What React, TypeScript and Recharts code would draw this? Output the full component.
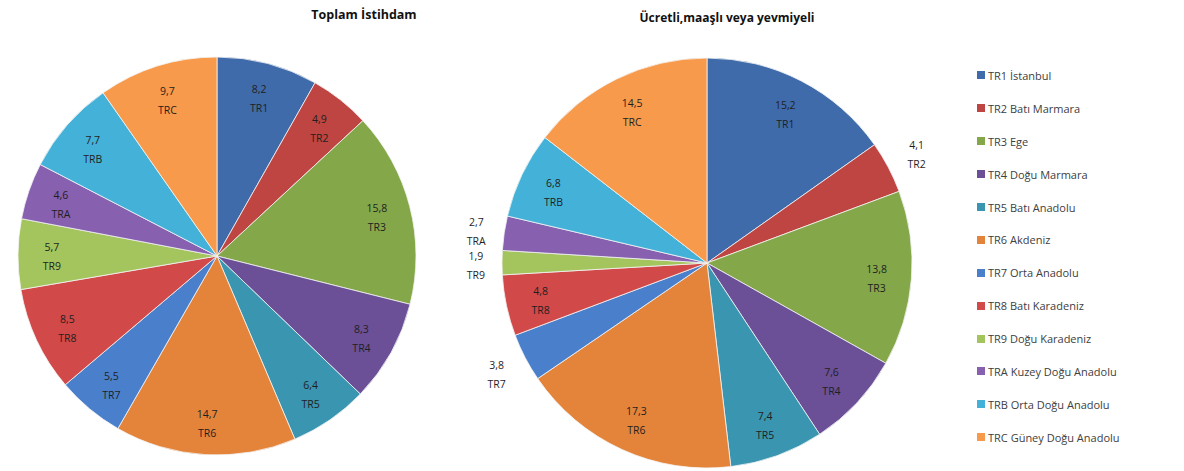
import React from "react";
import { PieChart, Pie, Cell } from "recharts";

const regionCodes = ["TR1", "TR2", "TR3", "TR4", "TR5", "TR6", "TR7", "TR8", "TR9", "TRA", "TRB", "TRC"];
const regionNames = [
  "TR1 İstanbul",
  "TR2 Batı Marmara",
  "TR3 Ege",
  "TR4 Doğu Marmara",
  "TR5 Batı Anadolu",
  "TR6 Akdeniz",
  "TR7 Orta Anadolu",
  "TR8 Batı Karadeniz",
  "TR9 Doğu Karadeniz",
  "TRA Kuzey Doğu Anadolu",
  "TRB Orta Doğu Anadolu",
  "TRC Güney Doğu Anadolu",
];
const totalEmployment = [8.2, 4.9, 15.8, 8.3, 6.4, 14.7, 5.5, 8.5, 5.7, 4.6, 7.7, 9.7];
const wageEarners = [15.2, 4.1, 13.8, 7.6, 7.4, 17.3, 3.8, 4.8, 1.9, 2.7, 6.8, 14.5];
const colors = [
  "#3F6BAA", "#BE4541", "#84A74A", "#6B4F97", "#3A95B0", "#E3843A",
  "#4A7FCC", "#D14949", "#A4C55E", "#8760B0", "#44B2D8", "#F79A4B",
];
const titleLeft = "Toplam İstihdam";
const titleRight = "Ücretli,maaşlı veya yevmiyeli";

const FONT = "'Open Sans', 'Liberation Sans', Arial, sans-serif";
const RAD = Math.PI / 180;

const dataLeft = regionCodes.map((c, i) => ({ code: c, value: totalEmployment[i] }));
const dataRight = regionCodes.map((c, i) => ({ code: c, value: wageEarners[i] }));

const fmt = (v: number) => v.toFixed(1).replace(".", ",");

const renderLabel = (props: any) => {
  const { cx, cy, midAngle, outerRadius, percent, payload } = props;
  const cos = Math.cos(-midAngle * RAD);
  const sin = Math.sin(-midAngle * RAD);
  let x: number, y: number;
  if (percent >= 0.045) {
    const r = outerRadius * 0.83;
    x = cx + r * cos;
    y = cy + r * sin;
  } else {
    const w = 24;
    const h = 32;
    const r = outerRadius + 14 + Math.abs(cos) * w / 2 + Math.abs(sin) * h / 2;
    x = cx + r * cos;
    y = cy + r * sin;
  }
  return (
    <text
      x={x}
      y={y}
      textAnchor="middle"
      fill="#1f1f1f"
      fontSize={10.5}
      fontFamily={FONT}
    >
      <tspan x={x} dy={-3}>{fmt(payload.value)}</tspan>
      <tspan x={x} dy={19}>{payload.code}</tspan>
    </text>
  );
};

export default function App() {
  return (
    <div style={{ position: "absolute", left: 0, top: 0, width: 1184, height: 471, background: "#fff", fontFamily: FONT }}>
      <div style={{ position: "absolute", left: 264, top: 6, width: 200, textAlign: "center", fontWeight: 700, fontSize: 12.5, color: "#111" }}>
        {titleLeft}
      </div>
      <div style={{ position: "absolute", left: 622, top: 9, width: 210, textAlign: "center", fontWeight: 700, fontSize: 12, color: "#111" }}>
        {titleRight}
      </div>
      <PieChart width={960} height={471} style={{ position: "absolute", left: 0, top: 0 }}>
        <Pie
          data={dataLeft}
          dataKey="value"
          nameKey="code"
          cx={212}
          cy={251}
          outerRadius={199}
          startAngle={90}
          endAngle={-270}
          stroke="#f4f4f4"
          strokeWidth={0.8}
          label={renderLabel}
          labelLine={false}
          isAnimationActive={false}
        >
          {dataLeft.map((d, i) => (
            <Cell key={d.code} fill={colors[i]} />
          ))}
        </Pie>
        <Pie
          data={dataRight}
          dataKey="value"
          nameKey="code"
          cx={702}
          cy={258}
          outerRadius={205}
          startAngle={90}
          endAngle={-270}
          stroke="#f4f4f4"
          strokeWidth={0.8}
          label={renderLabel}
          labelLine={false}
          isAnimationActive={false}
        >
          {dataRight.map((d, i) => (
            <Cell key={d.code} fill={colors[i]} />
          ))}
        </Pie>
      </PieChart>
      <div style={{ position: "absolute", left: 977, top: 59 }}>
        {regionNames.map((n, i) => (
          <div key={n} style={{ display: "flex", alignItems: "center", height: 32.9, fontSize: 11, color: "#404040", whiteSpace: "nowrap" }}>
            <span style={{ display: "inline-block", width: 8, height: 8, background: colors[i], marginRight: 3 }} />
            {n}
          </div>
        ))}
      </div>
    </div>
  );
}
